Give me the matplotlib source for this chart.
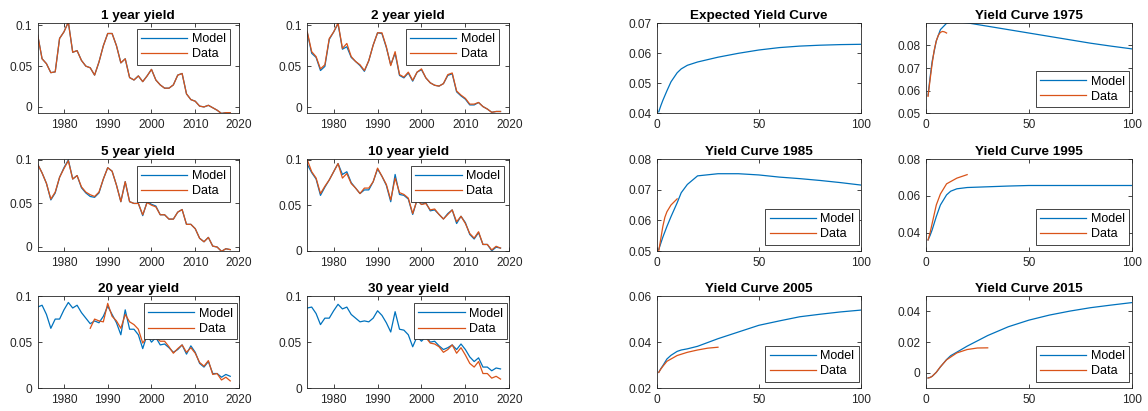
import matplotlib
matplotlib.use("Agg")
import matplotlib.pyplot as plt
from matplotlib.ticker import FuncFormatter

plt.rcParams['font.family'] = ['Liberation Sans', 'DejaVu Sans']

BLUE = '#0072BD'
ORANGE = '#D95319'
AX_COL = '#262626'

# ---- time series of yields, 1974..2018 ----
years = list(range(1974, 2019))

y1_model = [0.088, 0.059, 0.053, 0.042, 0.043, 0.084, 0.092, 0.104, 0.067, 0.069,
            0.057, 0.050, 0.048, 0.039, 0.055, 0.075, 0.090, 0.090, 0.075, 0.054,
            0.059, 0.036, 0.033, 0.038, 0.031, 0.038, 0.046, 0.033, 0.027, 0.023,
            0.023, 0.027, 0.039, 0.041, 0.016, 0.009, 0.007, 0.001, 0.000, 0.002,
            -0.001, -0.004, -0.008, -0.007, -0.007]
y1_data = [0.088, 0.059, 0.053, 0.042, 0.043, 0.084, 0.092, 0.104, 0.067, 0.069,
           0.057, 0.050, 0.048, 0.039, 0.055, 0.075, 0.090, 0.090, 0.075, 0.054,
           0.059, 0.036, 0.033, 0.038, 0.031, 0.038, 0.046, 0.033, 0.027, 0.023,
           0.023, 0.027, 0.039, 0.041, 0.016, 0.009, 0.007, 0.001, 0.000, 0.002,
           -0.001, -0.004, -0.008, -0.007, -0.007]

y2_model = [0.091, 0.066, 0.061, 0.045, 0.050, 0.083, 0.092, 0.102, 0.071, 0.074,
            0.061, 0.056, 0.051, 0.044, 0.057, 0.076, 0.091, 0.090, 0.073, 0.052,
            0.066, 0.039, 0.036, 0.042, 0.032, 0.043, 0.046, 0.036, 0.030, 0.027,
            0.026, 0.029, 0.039, 0.041, 0.019, 0.014, 0.010, 0.003, 0.003, 0.006,
            0.001, -0.002, -0.006, -0.005, -0.005]
y2_data = [0.092, 0.068, 0.062, 0.047, 0.052, 0.084, 0.092, 0.103, 0.072, 0.078,
           0.062, 0.056, 0.052, 0.045, 0.057, 0.076, 0.091, 0.091, 0.074, 0.051,
           0.068, 0.040, 0.037, 0.043, 0.033, 0.043, 0.047, 0.036, 0.030, 0.027,
           0.026, 0.029, 0.040, 0.042, 0.020, 0.015, 0.011, 0.004, 0.004, 0.006,
           0.001, -0.002, -0.006, -0.005, -0.005]

y5_model = [0.095, 0.085, 0.073, 0.054, 0.062, 0.080, 0.091, 0.100, 0.078, 0.082,
            0.068, 0.062, 0.058, 0.057, 0.062, 0.078, 0.091, 0.087, 0.071, 0.052,
            0.075, 0.052, 0.050, 0.050, 0.036, 0.052, 0.049, 0.047, 0.037, 0.037,
            0.032, 0.032, 0.040, 0.043, 0.026, 0.026, 0.021, 0.010, 0.006, 0.011,
            0.001, 0.000, -0.005, -0.002, -0.003]
y5_data = [0.095, 0.085, 0.073, 0.055, 0.063, 0.080, 0.090, 0.099, 0.078, 0.082,
           0.069, 0.063, 0.060, 0.058, 0.063, 0.078, 0.091, 0.087, 0.071, 0.052,
           0.075, 0.052, 0.050, 0.050, 0.037, 0.051, 0.048, 0.046, 0.037, 0.037,
           0.032, 0.032, 0.040, 0.043, 0.026, 0.026, 0.021, 0.010, 0.006, 0.011,
           0.001, 0.000, -0.005, -0.002, -0.003]

y10_model = [0.095, 0.086, 0.079, 0.061, 0.070, 0.078, 0.087, 0.096, 0.084, 0.087,
             0.075, 0.069, 0.063, 0.067, 0.067, 0.076, 0.090, 0.082, 0.072, 0.054,
             0.084, 0.062, 0.061, 0.057, 0.040, 0.056, 0.051, 0.053, 0.044, 0.045,
             0.040, 0.035, 0.041, 0.045, 0.030, 0.038, 0.031, 0.018, 0.013, 0.020,
             0.007, 0.007, 0.000, 0.004, 0.003]
y10_data = [0.100, 0.087, 0.080, 0.063, 0.071, 0.078, 0.087, 0.096, 0.080, 0.085,
            0.074, 0.069, 0.063, 0.069, 0.069, 0.076, 0.091, 0.082, 0.073, 0.056,
            0.080, 0.064, 0.062, 0.058, 0.041, 0.056, 0.051, 0.052, 0.045, 0.046,
            0.040, 0.035, 0.040, 0.045, 0.032, 0.038, 0.030, 0.019, 0.014, 0.021,
            0.007, 0.007, 0.001, 0.005, 0.003]

y20_model = [0.088, 0.090, 0.080, 0.065, 0.075, 0.075, 0.085, 0.093, 0.087, 0.090,
             0.082, 0.076, 0.070, 0.073, 0.071, 0.078, 0.089, 0.080, 0.071, 0.058,
             0.085, 0.064, 0.064, 0.058, 0.043, 0.058, 0.050, 0.055, 0.047, 0.048,
             0.044, 0.039, 0.042, 0.047, 0.037, 0.046, 0.039, 0.027, 0.023, 0.029,
             0.016, 0.016, 0.012, 0.015, 0.013]
years20_data = list(range(1986, 2019))
y20_data = [0.065, 0.075, 0.073, 0.072, 0.092, 0.078, 0.073, 0.065, 0.080, 0.072,
            0.069, 0.064, 0.049, 0.056, 0.056, 0.055, 0.051, 0.051, 0.045, 0.038,
            0.043, 0.047, 0.039, 0.044, 0.038, 0.028, 0.024, 0.030, 0.015, 0.016,
            0.009, 0.012, 0.008]

y30_model = [0.087, 0.088, 0.081, 0.069, 0.076, 0.076, 0.084, 0.091, 0.086, 0.088,
             0.080, 0.076, 0.072, 0.073, 0.072, 0.076, 0.084, 0.079, 0.071, 0.061,
             0.083, 0.064, 0.063, 0.058, 0.045, 0.056, 0.051, 0.056, 0.050, 0.051,
             0.046, 0.042, 0.044, 0.047, 0.042, 0.048, 0.042, 0.034, 0.029, 0.033,
             0.023, 0.023, 0.019, 0.022, 0.021]
years30_data = list(range(2000, 2019))
y30_data = [0.056, 0.055, 0.049, 0.048, 0.045, 0.039, 0.042, 0.047, 0.038, 0.044,
            0.036, 0.027, 0.023, 0.029, 0.016, 0.016, 0.011, 0.013, 0.010]

# ---- yield curves ----
mats = [1, 2, 3, 5, 7, 10, 12, 15, 20, 30, 40, 50, 60, 70, 80, 90, 100]
curve_expected = [0.0405, 0.0425, 0.0443, 0.0475, 0.0505, 0.0535, 0.0548, 0.0560,
                  0.0571, 0.0587, 0.0600, 0.0611, 0.0619, 0.0624, 0.0627, 0.0629, 0.0630]
curve1975_model = [0.0580, 0.0660, 0.0730, 0.0820, 0.0870, 0.0898, 0.0903, 0.0905,
                   0.0900, 0.0885, 0.0870, 0.0855, 0.0840, 0.0825, 0.0810, 0.0797, 0.0785]
curve1985_model = [0.0505, 0.0525, 0.0545, 0.0580, 0.0612, 0.0657, 0.0690, 0.0717,
                   0.0745, 0.0752, 0.0752, 0.0748, 0.0741, 0.0736, 0.0730, 0.0723, 0.0715]
curve1995_model = [0.0360, 0.0385, 0.0415, 0.0487, 0.0550, 0.0605, 0.0625, 0.0638,
                   0.0645, 0.0649, 0.0653, 0.0656, 0.0656, 0.0656, 0.0656, 0.0656, 0.0656]
curve2005_model = [0.0269, 0.0285, 0.0298, 0.0327, 0.0343, 0.0360, 0.0366, 0.0371,
                   0.0382, 0.0415, 0.0444, 0.0473, 0.0492, 0.0510, 0.0521, 0.0531, 0.0539]
curve2015_model = [-0.0033, -0.0029, -0.0022, 0.0004, 0.0039, 0.0087, 0.0112, 0.0135,
                   0.0174, 0.0243, 0.0300, 0.0343, 0.0376, 0.0402, 0.0424, 0.0441, 0.0457]

mats1975_data = [1, 2, 3, 4, 5, 6, 7, 8, 9, 10]
curve1975_data = [0.0575, 0.0650, 0.0720, 0.0780, 0.0820, 0.0845, 0.0858, 0.0862, 0.0860, 0.0855]
mats1985_data = [1, 2, 3, 4, 5, 7, 10]
curve1985_data = [0.0500, 0.0540, 0.0580, 0.0610, 0.0628, 0.0650, 0.0670]
mats1995_data = [1, 2, 3, 5, 7, 10, 15, 20]
curve1995_data = [0.0360, 0.0400, 0.0450, 0.0550, 0.0610, 0.0665, 0.0696, 0.0715]
mats2005_data = [1, 2, 3, 5, 10, 15, 20, 25, 30]
curve2005_data = [0.0269, 0.0283, 0.0295, 0.0317, 0.0342, 0.0356, 0.0366, 0.0374, 0.0378]
mats2015_data = [1, 2, 3, 5, 7, 10, 15, 20, 25, 30]
curve2015_data = [-0.0033, -0.0030, -0.0022, 0.0004, 0.0040, 0.0085, 0.0130, 0.0152, 0.0162, 0.0163]


def gfmt(v, pos):
    s = '%g' % round(v, 6)
    return '0' if s in ('-0', '0') else s


def style_axes(ax, title):
    ax.set_title(title, fontsize=9.7, fontweight='bold', color='black', pad=3)
    ax.tick_params(direction='in', length=3, width=0.6, labelsize=8.6, colors=AX_COL,
                   top=True, right=True, pad=4)
    for sp in ax.spines.values():
        sp.set_color(AX_COL)
        sp.set_linewidth(0.6)
    ax.yaxis.set_major_formatter(FuncFormatter(gfmt))


def add_legend(ax, loc, anchor):
    leg = ax.legend(['Model', 'Data'], loc=loc, bbox_to_anchor=anchor, borderaxespad=0,
                    fontsize=9, frameon=True, fancybox=False, framealpha=1,
                    handlelength=3.7, handletextpad=0.35, borderpad=0.35, labelspacing=0.25)
    leg.get_frame().set_edgecolor(AX_COL)
    leg.get_frame().set_linewidth(0.6)


fig = plt.figure(figsize=(11.48, 4.11), dpi=100)
W, H = 1148.0, 411.0
cols = [(37.7, 239.0), (307.3, 509.3), (656.7, 861.0), (926.0, 1131.7)]
rows = [(23.3, 113.3), (159.0, 251.0), (296.0, 388.3)]


def make_ax(r, c):
    x0, x1 = cols[c]
    t, b = rows[r]
    return fig.add_axes([x0 / W, 1 - b / H, (x1 - x0) / W, (b - t) / H])


lw = 0.9

ts_panels = [
    ('1 year yield', years, y1_model, years, y1_data, (-0.0078, 0.1025), (0.955, 0.937)),
    ('2 year yield', years, y2_model, years, y2_data, (-0.0072, 0.1026), (0.95, 0.94)),
    ('5 year yield', years, y5_model, years, y5_data, (-0.0046, 0.101), (0.955, 0.924)),
    ('10 year yield', years, y10_model, years, y10_data, (-0.0002, 0.101), (0.975, 0.924)),
    ('20 year yield', years, y20_model, years20_data, y20_data, (0.0, 0.1), (0.99, 0.92)),
    ('30 year yield', years, y30_model, years30_data, y30_data, (0.0, 0.1), (0.99, 0.92)),
]
for i, (title, xm, ym, xd, yd, ylim, anchor) in enumerate(ts_panels):
    ax = make_ax(i // 2, i % 2)
    ax.plot(xm, ym, color=BLUE, lw=lw)
    ax.plot(xd, yd, color=ORANGE, lw=lw)
    ax.set_xlim(1974, 2020)
    ax.set_ylim(*ylim)
    ax.set_xticks([1980, 1990, 2000, 2010, 2020])
    ax.set_yticks([0, 0.05, 0.1])
    style_axes(ax, title)
    add_legend(ax, 'upper right', anchor)

curve_panels = [
    ('Yield Curve 1975', curve1975_model, mats1975_data, curve1975_data,
     (0.05, 0.0898), [0.05, 0.06, 0.07, 0.08]),
    ('Yield Curve 1985', curve1985_model, mats1985_data, curve1985_data,
     (0.05, 0.08), [0.05, 0.06, 0.07, 0.08]),
    ('Yield Curve 1995', curve1995_model, mats1995_data, curve1995_data,
     (0.03, 0.08), [0.04, 0.06, 0.08]),
    ('Yield Curve 2005', curve2005_model, mats2005_data, curve2005_data,
     (0.02, 0.06), [0.02, 0.04, 0.06]),
    ('Yield Curve 2015', curve2015_model, mats2015_data, curve2015_data,
     (-0.01, 0.05), [0, 0.02, 0.04]),
]

ax = make_ax(0, 2)
ax.plot(mats, curve_expected, color=BLUE, lw=lw)
ax.set_xlim(0, 100)
ax.set_ylim(0.04, 0.07)
ax.set_xticks([0, 50, 100])
ax.set_yticks([0.04, 0.05, 0.06, 0.07])
style_axes(ax, 'Expected Yield Curve')

for k, (title, ym, xd, yd, ylim, yt) in enumerate(curve_panels):
    j = k + 1
    ax = make_ax(j // 2, 2 + j % 2)
    ax.plot(mats, ym, color=BLUE, lw=lw)
    ax.plot(xd, yd, color=ORANGE, lw=lw)
    ax.set_xlim(0, 100)
    ax.set_ylim(*ylim)
    ax.set_xticks([0, 50, 100])
    ax.set_yticks(yt)
    style_axes(ax, title)
    add_legend(ax, 'lower right', (0.988, 0.07))

fig.savefig('out.png', dpi=100)
